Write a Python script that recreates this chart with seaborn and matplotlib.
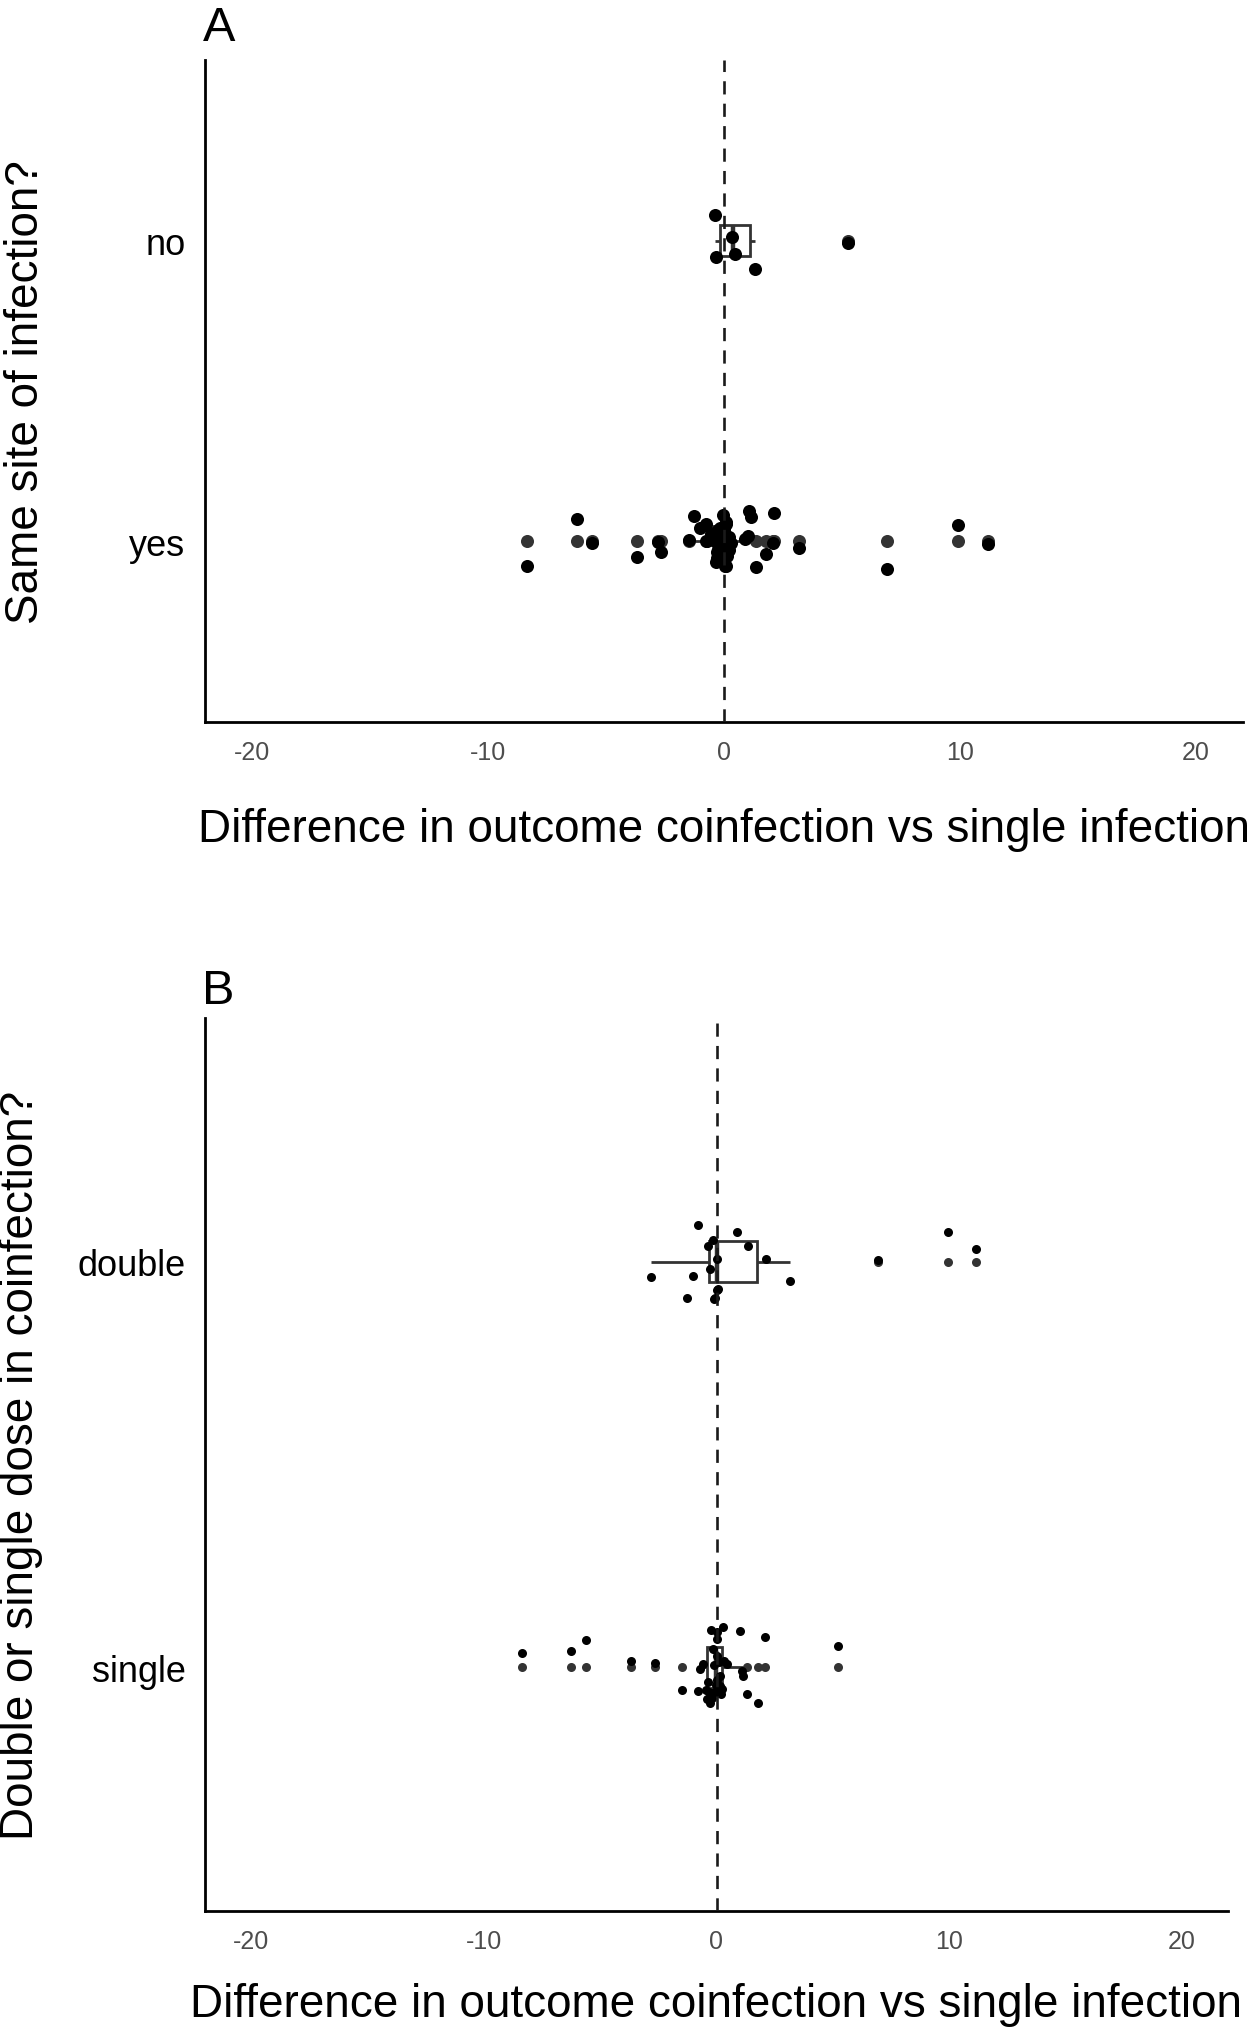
import numpy as np
import pandas as pd
import matplotlib
matplotlib.use("Agg")
import matplotlib.pyplot as plt
import seaborn as sns

# Difference in outcome (coinfection - single infection), split by dose,
# with the "same site of infection?" answer for each observation
double_vals = [-2.81, -1.28, -1.02, -0.78, -0.37, -0.29, -0.17, -0.11, -0.05,
               0.0, 0.03, 0.07, 0.88, 1.35, 2.13, 3.16, 6.93, 9.94, 11.18]
double_site = ["yes", "yes", "yes", "yes", "no", "yes", "yes", "yes", "yes",
               "yes", "yes", "yes", "yes", "yes", "yes", "yes", "yes", "yes", "yes"]

single_vals = [-8.37, -6.24, -5.60, -3.68, -2.66, -1.48, -0.78, -0.70, -0.56,
               -0.45, -0.41, -0.35, -0.32, -0.28, -0.24, -0.20, -0.16, -0.12,
               -0.08, -0.04, 0.0, 0.0, 0.02, 0.04, 0.07, 0.10, 0.13, 0.17,
               0.20, 0.23, 0.30, 0.33, 0.47, 1.01, 1.08, 1.13, 1.33, 1.80,
               2.08, 5.24]
single_site = ["yes"] * 11 + ["no"] + ["yes"] * 19 + ["no", "no"] + \
              ["yes"] * 3 + ["no"] + ["yes", "yes"] + ["no"]

site_order = ["no", "yes"]
dose_order = ["double", "single"]
x_ticks = [-20, -10, 0, 10, 20]

df = pd.DataFrame({
    "diff": double_vals + single_vals,
    "site": double_site + single_site,
    "dose": ["double"] * len(double_vals) + ["single"] * len(single_vals),
})

sns.set_style("white")
plt.rcParams["font.family"] = ["Liberation Sans", "DejaVu Sans"]
plt.rcParams["text.color"] = "black"
plt.rcParams["axes.labelcolor"] = "black"
np.random.seed(7)

fig = plt.figure(figsize=(12.5, 20.31), dpi=100)
axA = fig.add_axes([0.164, 0.644, 0.8304, 0.326])
axB = fig.add_axes([0.164, 0.0586, 0.8184, 0.4397])


def panel(ax, col, order, dot, ylabel, xlab_y, ylab_x):
    sns.boxplot(data=df, x="diff", y=col, order=order, orient="h", width=0.1,
                color="white", linecolor="#333333", linewidth=2.0, whis=1.5,
                flierprops=dict(marker="o", markerfacecolor="#333333",
                                markeredgecolor="none", markersize=dot),
                medianprops=dict(linewidth=3.2),
                capprops=dict(visible=False), ax=ax)
    sns.stripplot(data=df, x="diff", y=col, order=order, orient="h",
                  jitter=0.1, color="black", size=dot, linewidth=0,
                  ax=ax, zorder=3)
    ax.axvline(0, color="#1a1a1a", lw=1.9, ls=(0, (5, 3.5)), zorder=4)

    ax.set_xlim(-22, 22)
    ax.set_ylim(len(order) - 1 + 0.6, -0.6)
    ax.set_xticks(x_ticks)
    ax.set_xticklabels([str(t) for t in x_ticks])
    sns.despine(ax=ax)
    for s in ["left", "bottom"]:
        ax.spines[s].set_linewidth(2.0)
        ax.spines[s].set_color("black")
    ax.tick_params(axis="x", labelsize=18, labelcolor="#4D4D4D",
                   color="#333333", length=7, width=1.3, pad=6)
    ax.tick_params(axis="y", labelsize=26, labelcolor="black",
                   color="#333333", length=7, width=1.3, pad=7)

    ax.set_xlabel("Difference in outcome coinfection vs single infection",
                  fontsize=33)
    ax.xaxis.set_label_coords(0.5, xlab_y)
    ax.xaxis.label.set_va("center")
    ax.set_ylabel(ylabel, fontsize=33)
    ax.yaxis.set_label_coords(ylab_x, 0.5)
    ax.yaxis.label.set_va("center")


panel(axA, "site", site_order, 9.4, "Same site of infection?", -0.1616, -0.172)
panel(axB, "dose", dose_order, 6.5, "Double or single dose in coinfection?",
      -0.1041, -0.180)

fig.text(0.162, 0.9798, "A", fontsize=35, ha="left", va="baseline")
fig.text(0.162, 0.5057, "B", fontsize=35, ha="left", va="baseline")

fig.savefig("out.png", dpi=100)
